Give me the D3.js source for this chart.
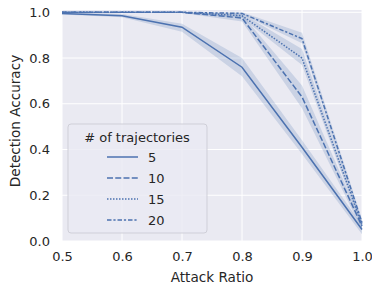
<!DOCTYPE html>
<html>
<head>
<meta charset="utf-8">
<script src="https://cdn.jsdelivr.net/npm/d3@7"></script>
<style>
  body { margin: 0; background: #fff; }
  svg { font-family: "DejaVu Sans", sans-serif; }
</style>
</head>
<body>
<div id="vis"></div>
<script>
// Data
const ratios = [0.5, 0.6, 0.7, 0.8, 0.9, 1.0];
const seriesNames = ['5', '10', '15', '20'];
const meanVals = [
    [0.995, 0.985, 0.935, 0.76, 0.41, 0.05],
    [1.0, 1.0, 1.0, 0.975, 0.63, 0.065],
    [1.0, 1.0, 1.0, 0.985, 0.80, 0.07],
    [1.0, 1.0, 1.0, 0.995, 0.885, 0.08]
];
const lowVals = [
    [0.99, 0.978, 0.915, 0.72, 0.38, 0.03],
    [0.997, 0.997, 0.997, 0.96, 0.58, 0.05],
    [0.997, 0.997, 0.997, 0.975, 0.77, 0.055],
    [0.997, 0.997, 0.997, 0.99, 0.865, 0.065]
];
const highVals = [
    [1.0, 0.992, 0.95, 0.80, 0.44, 0.07],
    [1.0, 1.0, 1.0, 0.99, 0.68, 0.08],
    [1.0, 1.0, 1.0, 0.995, 0.84, 0.085],
    [1.0, 1.0, 1.0, 1.0, 0.91, 0.095]
];
const xTicks = [0.5, 0.6, 0.7, 0.8, 0.9, 1.0];
const yTicks = [0.0, 0.2, 0.4, 0.6, 0.8, 1.0];

const dashes = ['none', '6,2.25', '1.5,1.5', '4.5,1.9,2.2,1.9'];
const lineColor = '#4c72b0';

const margin = { top: 10, right: 10, bottom: 48, left: 62 };
const width = 372 - margin.left - margin.right;
const height = 289 - margin.top - margin.bottom;

const svg = d3.select('#vis')
    .append('svg')
    .attr('width', 372)
    .attr('height', 289)
    .append('g')
    .attr('transform', `translate(${margin.left},${margin.top})`);

const xScale = d3.scaleLinear().domain([0.5, 1.0]).range([0, width]);
const yScale = d3.scaleLinear().domain([0, 1.01]).range([height, 0]);

// background
svg.append('rect')
    .attr('width', width)
    .attr('height', height)
    .attr('fill', '#eaeaf2');

// grid
svg.selectAll('.vgrid')
    .data(xTicks)
    .join('line')
    .attr('x1', d => xScale(d)).attr('x2', d => xScale(d))
    .attr('y1', 0).attr('y2', height)
    .attr('stroke', '#fff').attr('stroke-width', 1);
svg.selectAll('.hgrid')
    .data(yTicks)
    .join('line')
    .attr('y1', d => yScale(d)).attr('y2', d => yScale(d))
    .attr('x1', 0).attr('x2', width)
    .attr('stroke', '#fff').attr('stroke-width', 1);

// axes (no lines, just labels)
const xAxis = svg.append('g')
    .attr('transform', `translate(0,${height})`)
    .call(d3.axisBottom(xScale).tickValues(xTicks).tickFormat(d3.format('.1f')).tickSize(0).tickPadding(11));
const yAxis = svg.append('g')
    .call(d3.axisLeft(yScale).tickValues(yTicks).tickFormat(d3.format('.1f')).tickSize(0).tickPadding(12));
[xAxis, yAxis].forEach(a => {
    a.select('.domain').remove();
    a.selectAll('text')
        .attr('fill', '#262626')
        .style('font-size', '13px')
        .style('font-family', '"DejaVu Sans", sans-serif');
});

// bands
const area = d3.area()
    .x((d, i) => xScale(ratios[i]))
    .y0(d => yScale(d[0]))
    .y1(d => yScale(d[1]));
const line = d3.line()
    .x((d, i) => xScale(ratios[i]))
    .y(d => yScale(d));

seriesNames.forEach((name, s) => {
    const band = lowVals[s].map((v, i) => [v, highVals[s][i]]);
    svg.append('path')
        .datum(band)
        .attr('d', area)
        .attr('fill', lineColor)
        .attr('fill-opacity', 0.2);
});

seriesNames.forEach((name, s) => {
    svg.append('path')
        .datum(meanVals[s])
        .attr('d', line)
        .attr('fill', 'none')
        .attr('stroke', lineColor)
        .attr('stroke-width', 1.5)
        .attr('stroke-dasharray', dashes[s]);
});

// axis labels
svg.append('text')
    .attr('x', width / 2)
    .attr('y', height + 41)
    .attr('text-anchor', 'middle')
    .attr('fill', '#262626')
    .style('font-size', '13.6px')
    .text('Attack Ratio');

svg.append('text')
    .attr('transform', 'rotate(-90)')
    .attr('x', -111)
    .attr('y', -42)
    .attr('text-anchor', 'middle')
    .attr('fill', '#262626')
    .style('font-size', '13.6px')
    .text('Detection Accuracy');

// legend
const legend = svg.append('g')
    .attr('transform', 'translate(6,114)');
legend.append('rect')
    .attr('width', 139)
    .attr('height', 109)
    .attr('rx', 3)
    .attr('fill', '#eaeaf2')
    .attr('fill-opacity', 0.8)
    .attr('stroke', '#cfcfd8')
    .attr('stroke-width', 1);
legend.append('text')
    .attr('x', 69)
    .attr('y', 18)
    .attr('text-anchor', 'middle')
    .attr('fill', '#262626')
    .style('font-size', '13px')
    .text('# of trajectories');

seriesNames.forEach((name, s) => {
    const yy = 33 + s * 21;
    legend.append('line')
        .attr('x1', 39).attr('x2', 70)
        .attr('y1', yy).attr('y2', yy)
        .attr('stroke', lineColor)
        .attr('stroke-width', 1.5)
        .attr('stroke-dasharray', dashes[s]);
    legend.append('text')
        .attr('x', 80)
        .attr('y', yy + 5)
        .attr('fill', '#262626')
        .style('font-size', '13px')
        .text(name);
});
</script>
</body>
</html>
